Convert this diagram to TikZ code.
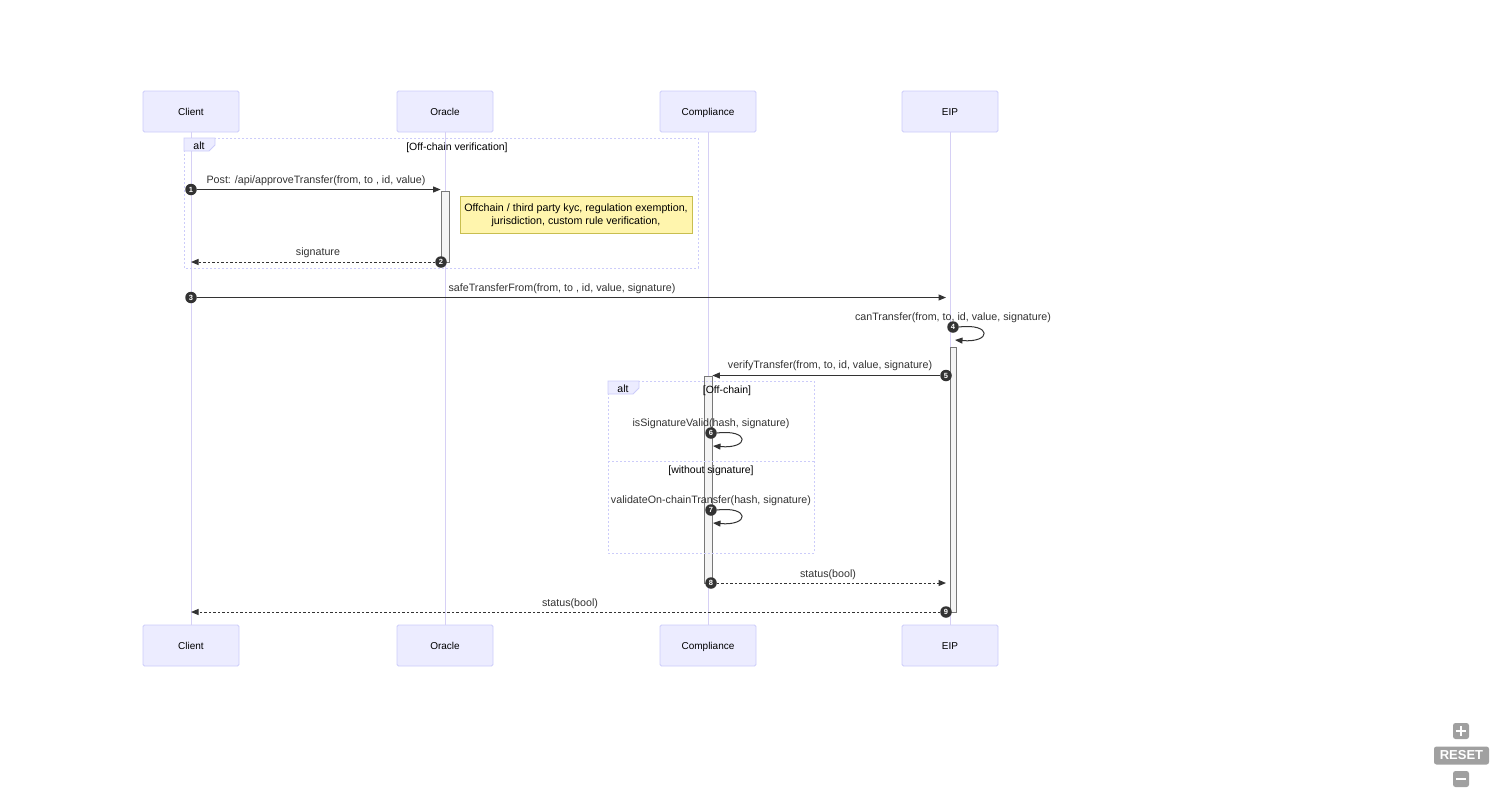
\documentclass[tikz,border=0pt]{standalone}
\usepackage{fontspec}
\setmainfont{Liberation Sans}
\usepackage{tikz}
\usetikzlibrary{arrows.meta}
\usetikzlibrary{positioning,calc}
\definecolor{actorfill}{RGB}{236,236,255}
\definecolor{actorline}{RGB}{204,204,250}
\definecolor{lifeline}{RGB}{214,208,245}
\definecolor{msgcol}{RGB}{51,51,51}
\definecolor{notefill}{RGB}{255,245,173}
\definecolor{noteline}{RGB}{200,190,80}
\definecolor{actfill}{RGB}{244,244,244}
\definecolor{actline}{RGB}{120,120,120}
\definecolor{ctrlgray}{RGB}{160,160,160}

\begin{document}
\begin{tikzpicture}[
x=1pt,y=-1pt,
ActorBox/.style={draw=actorline,fill=actorfill,line width=0.8pt,rounded corners=1.5pt,minimum width=96pt,minimum height=41pt,inner sep=0pt,text height=8.4pt,text depth=0pt,font=\fontsize{10}{12}\selectfont},
LifeLine/.style={draw=lifeline,line width=0.9pt},
ActBar/.style={draw=actline,fill=actfill,line width=0.8pt,minimum width=8pt,inner sep=0pt},
AltFrame/.style={draw=actorline,line width=0.8pt,dash pattern=on 2pt off 2pt},
AltTab/.style={draw=actorline,fill=actorfill,line width=0.8pt},
FrameText/.style={font=\fontsize{10.5}{12}\selectfont,text=black,inner sep=0pt,text height=8pt,text depth=2pt},
MsgLabel/.style={font=\fontsize{10.7}{12}\selectfont,text=msgcol,inner sep=0pt,text height=8pt,text depth=2pt},
Msg/.style={draw=msgcol,line width=1pt,-{Triangle[length=7.5pt,width=6pt]}},
Reply/.style={Msg,dash pattern=on 2.5pt off 2pt},
SeqNum/.style={circle,fill=msgcol,text=white,inner sep=0pt,minimum size=11.5pt,font=\fontsize{7.5}{8}\selectfont\bfseries},
NoteBox/.style={draw=noteline,fill=notefill,line width=0.8pt,minimum width=232pt,minimum height=37pt,align=center,inner sep=0pt,font=\fontsize{10.7}{12.5}\selectfont},
CtrlBtn/.style={fill=ctrlgray,rounded corners=2.5pt,inner sep=0pt}
]
\useasboundingbox[fill=white] (0,0) rectangle (1500,796);

% lifeline positions
\pgfmathparse{191}		\let\Xcl\pgfmathresult
\pgfmathparse{445}		\let\Xor\pgfmathresult
\pgfmathparse{708}		\let\Xco\pgfmathresult
\pgfmathparse{950}		\let\Xei\pgfmathresult

% actors
\node[ActorBox] (ClientTop) at (\Xcl,111.5) {Client};
\node[ActorBox] (OracleTop) at (\Xor,111.5) {Oracle};
\node[ActorBox] (ComplTop) at (\Xco,111.5) {Compliance};
\node[ActorBox] (EIPTop) at (\Xei,111.5) {EIP};
\node[ActorBox] (ClientBot) at (\Xcl,645.5) {Client};
\node[ActorBox] (OracleBot) at (\Xor,645.5) {Oracle};
\node[ActorBox] (ComplBot) at (\Xco,645.5) {Compliance};
\node[ActorBox] (EIPBot) at (\Xei,645.5) {EIP};

\draw[LifeLine] (ClientTop) -- (ClientBot);
\draw[LifeLine] (OracleTop) -- (OracleBot);
\draw[LifeLine] (ComplTop) -- (ComplBot);
\draw[LifeLine] (EIPTop) -- (EIPBot);

% first alt frame
\draw[AltFrame] (184,138) rectangle (698,268);
\draw[AltTab] (184,138) -- (215,138) -- (215,145) -- (209,151) -- (184,151) -- cycle;
\node[FrameText] (alt1) at (199,146) {alt};
\node[FrameText] (alt1t) at (457,147) {[Off-chain verification]};

% activations
\node[ActBar,minimum height=71pt] (actO) at (445,226.5) {};
\node[ActBar,minimum height=265pt,minimum width=6pt] (actE) at (953,479.5) {};
\node[ActBar,minimum height=207pt] (actC) at (708,479.5) {};

\node[NoteBox] (note1) at (576,215) {Offchain / third party kyc, regulation exemption,\\jurisdiction, custom rule verification,};

% messages
\node[SeqNum] (n1) at (\Xcl,189.5) {1};
\node[MsgLabel] (l1) at (316,180) {Post: /api/approveTransfer(from, to , id, value)};
\draw[Msg] (n1) -- (actO.west |- n1);

\node[SeqNum] (n2) at (441,262) {2};
\node[MsgLabel] (l2) at (318,252) {signature};
\draw[Reply] (n2) -- (ClientTop.center |- n2);

\node[SeqNum] (n3) at (\Xcl,297.5) {3};
\node[MsgLabel] (l3) at (562,288) {safeTransferFrom(from, to , id, value, signature)};
\coordinate (m3e) at (946,297.5);
\draw[Msg] (n3) -- (m3e);

\node[SeqNum] (n4) at (953,327) {4};
\node[MsgLabel] (l4) at (953,317) {canTransfer(from, to, id, value, signature)};
\coordinate (m4e) at (955,340);
\draw[Msg] (n4.east) .. controls (992,323) and (992,343) .. (m4e);

\node[SeqNum] (n5) at (946,375.5) {5};
\node[MsgLabel] (l5) at (830,365) {verifyTransfer(from, to, id, value, signature)};
\draw[Msg] (n5) -- (actC.east |- n5);

% second alt frame
\draw[AltFrame] (608,381) rectangle (814,553);
\draw[AltFrame] (608,461) -- (814,461);
\draw[AltTab] (608,381) -- (639,381) -- (639,388) -- (633,394) -- (608,394) -- cycle;
\node[FrameText] (alt2) at (623,389) {alt};
\node[FrameText] (alt2t) at (727,390) {[Off-chain]};
\node[FrameText] (alt2e) at (711,470) {[without signature]};

\node[SeqNum] (n6) at (711,433) {6};
\node[MsgLabel] (l6) at (711,423) {isSignatureValid(hash, signature)};
\coordinate (m6e) at (713,446);
\draw[Msg] (n6.east) .. controls (750,429) and (750,449) .. (m6e);

\node[SeqNum] (n7) at (711,510) {7};
\node[MsgLabel] (l7) at (711,500) {validateOn-chainTransfer(hash, signature)};
\coordinate (m7e) at (713,523);
\draw[Msg] (n7.east) .. controls (750,506) and (750,526) .. (m7e);

\node[SeqNum] (n8) at (711,583) {8};
\node[MsgLabel] (l8) at (828,574) {status(bool)};
\coordinate (m8e) at (946,583);
\draw[Reply] (n8) -- (m8e);

\node[SeqNum] (n9) at (946,612) {9};
\node[MsgLabel] (l9) at (570,603) {status(bool)};
\draw[Reply] (n9) -- (ClientTop.center |- n9);

% zoom controls
\node[CtrlBtn,minimum width=16pt,minimum height=16pt] (zin) at (1461,731) {};
\draw[white,line width=2.6pt] ($(zin.center)+(-5,0)$) -- ($(zin.center)+(5,0)$);
\draw[white,line width=2.6pt] ($(zin.center)+(0,-5)$) -- ($(zin.center)+(0,5)$);
\node[CtrlBtn,minimum width=55pt,minimum height=18pt,text=white,font=\fontsize{13}{14}\selectfont\bfseries] (zreset) at (1461.5,755.5) {RESET};
\node[CtrlBtn,minimum width=16pt,minimum height=16pt] (zout) at (1461,779) {};
\draw[white,line width=2.6pt] ($(zout.center)+(-5,0)$) -- ($(zout.center)+(5,0)$);

\end{tikzpicture}
\end{document}
